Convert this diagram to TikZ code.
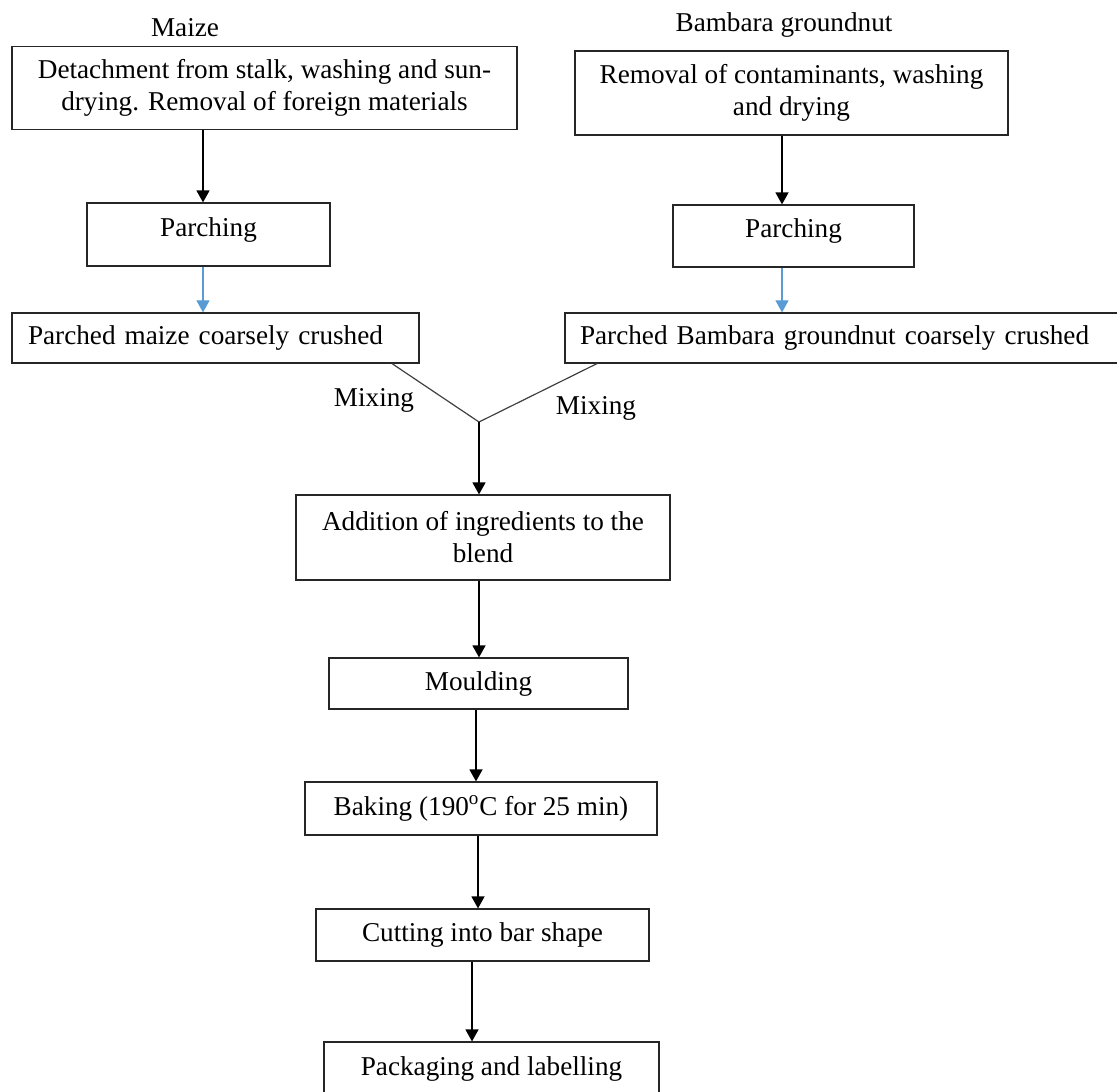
\documentclass[tikz,border=0pt]{standalone}
\usepackage{fontspec}
\setmainfont{Liberation Serif}
\usepackage{xcolor}
\usepackage{tikz}
\usetikzlibrary{arrows.meta}
\definecolor{flowblue}{HTML}{5B9BD5}

\begin{document}
\begin{tikzpicture}[x=0.5pt,y=-0.5pt,
    font=\fontsize{13.6}{16}\selectfont,
    box/.style={draw=black!85,line width=0.6pt,align=center,inner sep=0pt},
    lbox/.style={box,align=left},
    arr/.style={-{Triangle[length=6pt,width=6.5pt]},line width=0.7pt},
    barr/.style={arr,draw=flowblue,line width=0.55pt},
    mix/.style={draw=black!75,line width=0.6pt}]
    \useasboundingbox (0,0) rectangle (1117,1091);
    % maize side
    \node (maize) at (185,28) {Maize};
    \node[box,minimum width=252.5pt,minimum height=41.5pt] (detachM) at (264.5,88) {Detachment from stalk, washing and sun-\\drying. Removal of foreign materials};
    \node[box,minimum width=121.5pt,minimum height=31.5pt,text depth=7.5pt] (parchM) at (208.5,234.5) {Parching};
    \node[lbox,text width=187.5pt,inner xsep=8pt,minimum height=25pt] (crushM) at (215.5,338) {Parched maize coarsely crushed};
    % bambara side
    \node (bambara) at (784,25) {Bambara groundnut};
    \node[box,minimum width=216.5pt,minimum height=42pt] (removeB) at (791.5,93) {Removal of contaminants, washing\\and drying};
    \node[box,minimum width=120.5pt,minimum height=31pt,text depth=7.5pt] (parchB) at (793.5,236) {Parching};
    \node[lbox,text width=267.5pt,inner xsep=7.5pt,minimum height=25pt] (crushB) at (847.5,338) {Parched Bambara groundnut coarsely crushed};
    % mixing
    \coordinate (join) at (479,422);
    \node (mixM) at (374,400) {Mixing};
    \node (mixB) at (596,408) {Mixing};
    % common line
    \node[box,minimum width=187pt,minimum height=42.5pt] (addIng) at (483,537.5) {Addition of ingredients to the\\blend};
    \node[box,minimum width=149.5pt,minimum height=25.5pt] (mould) at (478.5,683.5) {Moulding};
    \node[box,minimum width=176pt,minimum height=26.5pt] (bake) at (481,808.5) {Baking (190\textsuperscript{o}C for 25 min)};
    \node[box,minimum width=166.5pt,minimum height=26pt] (cut) at (482.5,935) {Cutting into bar shape};
    \node[box,minimum width=167.5pt,minimum height=26.5pt] (pack) at (491.5,1068.5) {Packaging and labelling};

    \draw[arr] (203,0 |- detachM.south) -- (203,0 |- parchM.north);
    \draw[arr] (782,0 |- removeB.south) -- (782,0 |- parchB.north);
    \draw[barr] (203,0 |- parchM.south) -- (203,0 |- crushM.north);
    \draw[barr] (782,0 |- parchB.south) -- (782,0 |- crushB.north);
    \draw[mix] (392,0 |- crushM.south) -- (join);
    \draw[mix] (597,0 |- crushB.south) -- (join);
    \draw[arr] (join) -- (join |- addIng.north);
    \foreach \a/\b/\x in {addIng/mould/479,mould/bake/476,bake/cut/478,cut/pack/472}
      \draw[arr] (\x,0 |- \a.south) -- (\x,0 |- \b.north);
\end{tikzpicture}
\end{document}
